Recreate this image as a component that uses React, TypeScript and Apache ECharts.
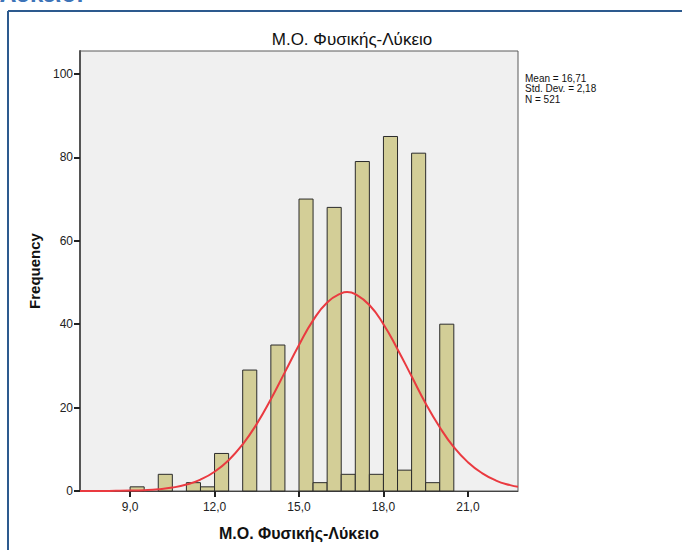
import React, { useEffect, useRef } from "react";
import * as echarts from "echarts";

const chartTitle = "Μ.Ο. Φυσικής-Λύκειο";
const xAxisTitle = "Μ.Ο. Φυσικής-Λύκειο";
const yAxisTitle = "Frequency";
const statsLines = ["Mean = 16,71", "Std. Dev. = 2,18", "N = 521"];

const binWidth = 0.5;
const binStarts = [9.0, 10.0, 11.0, 11.5, 12.0, 13.0, 14.0, 15.0, 15.5, 16.0, 16.5, 17.0, 17.5, 18.0, 18.5, 19.0, 19.5, 20.0];
const binCounts = [1, 4, 2, 1, 9, 29, 35, 70, 2, 68, 4, 79, 4, 85, 5, 81, 2, 40];

const curveX = [7.22, 8.0, 8.5, 9.0, 9.5, 10.0, 10.5, 11.0, 11.5, 12.0, 12.5, 13.0, 13.5, 14.0, 14.5, 15.0, 15.5, 16.0, 16.5, 16.71, 17.0, 17.5, 18.0, 18.5, 19.0, 19.5, 20.0, 20.5, 21.0, 21.5, 22.0, 22.5, 22.78];
const curveY = [0.0, 0.02, 0.04, 0.09, 0.2, 0.42, 0.82, 1.54, 2.74, 4.62, 7.38, 11.2, 16.1, 22.0, 28.5, 35.0, 40.9, 45.2, 47.4, 47.7, 47.2, 44.6, 40.0, 34.0, 27.5, 21.0, 15.3, 10.5, 6.9, 4.3, 2.5, 1.4, 1.0];

const xTicks = [9, 12, 15, 18, 21];
const yTicks = [0, 20, 40, 60, 80, 100];

export default function App() {
  const ref = useRef<HTMLDivElement>(null);
  useEffect(() => {
    if (!ref.current) return;
    const chart = echarts.init(ref.current, null, { renderer: "svg" });
    const barData = binStarts.map((s, i) => [s, s + binWidth, binCounts[i]]);
    const lineData = curveX.map((x, i) => [x, curveY[i]]);
    const font = "Arial, 'Liberation Sans', sans-serif";
    chart.setOption({
      animation: false,
      backgroundColor: "#ffffff",
      grid: {
        left: 80,
        top: 51,
        right: 164,
        bottom: 59,
        show: true,
        backgroundColor: "#f0f0f0",
        borderColor: "#5a5a5a",
        borderWidth: 1,
      },
      title: {
        text: chartTitle,
        left: 347,
        textAlign: "center",
        top: 26,
        textStyle: { fontFamily: font, fontSize: 17, fontWeight: "normal", color: "#111" },
      },
      xAxis: {
        type: "value",
        min: 7.22,
        max: 22.78,
        name: xAxisTitle,
        nameLocation: "middle",
        nameGap: 34,
        nameTextStyle: { fontFamily: font, fontSize: 16, fontWeight: "bold", color: "#111" },
        axisLine: { show: true, onZero: false, lineStyle: { color: "#444", width: 1 } },
        axisTick: { show: true, length: 6, customValues: xTicks, lineStyle: { color: "#222", width: 2 } },
        axisLabel: {
          customValues: xTicks,
          fontFamily: font,
          fontSize: 12,
          color: "#222",
          margin: 10,
          formatter: (v: number) => v.toFixed(1).replace(".", ","),
        },
        splitLine: { show: false },
      },
      yAxis: {
        type: "value",
        min: 0,
        max: 105.5,
        name: yAxisTitle,
        nameLocation: "middle",
        nameGap: 38,
        nameTextStyle: { fontFamily: font, fontSize: 15, fontWeight: "bold", color: "#111" },
        axisLine: { show: true, lineStyle: { color: "#555", width: 2 } },
        axisTick: { show: true, length: 6, customValues: yTicks, lineStyle: { color: "#222", width: 2 } },
        axisLabel: { customValues: yTicks, fontFamily: font, fontSize: 12, color: "#222", margin: 7 },
        splitLine: { show: false },
      },
      series: [
        {
          type: "custom",
          data: barData,
          encode: { x: [0, 1], y: 2 },
          renderItem: (params: any, api: any) => {
            const p0 = api.coord([api.value(0), 0]);
            const p1 = api.coord([api.value(1), api.value(2)]);
            return {
              type: "rect",
              shape: { x: p0[0], y: p1[1], width: p1[0] - p0[0], height: p0[1] - p1[1] },
              style: { fill: "#d3ce97", stroke: "#2b2b2b", lineWidth: 1 },
            };
          },
          z: 2,
        },
        {
          type: "line",
          data: lineData,
          smooth: true,
          showSymbol: false,
          symbol: "none",
          lineStyle: { color: "#ea3a40", width: 2 },
          z: 3,
        },
      ],
      graphic: [
        {
          type: "line",
          shape: { x1: 8, y1: 11, x2: 682, y2: 11 },
          style: { stroke: "#2d5a8e", lineWidth: 2 },
        },
        {
          type: "line",
          shape: { x1: 8, y1: 11, x2: 8, y2: 550 },
          style: { stroke: "#2d5a8e", lineWidth: 2 },
        },
        {
          type: "text",
          x: 0,
          y: -19,
          style: { text: "Λύκειο:", fontFamily: font, fontSize: 24, fontWeight: "bold", fill: "#3d74b8" },
        },
        {
          type: "text",
          x: 525,
          y: 73,
          style: {
            text: statsLines.join("\n"),
            fontFamily: font,
            fontSize: 10,
            lineHeight: 10.5,
            fill: "#111",
          },
        },
      ],
    });
    return () => chart.dispose();
  }, []);
  return <div ref={ref} style={{ position: "fixed", left: 0, top: 0, width: 682, height: 550 }} />;
}
